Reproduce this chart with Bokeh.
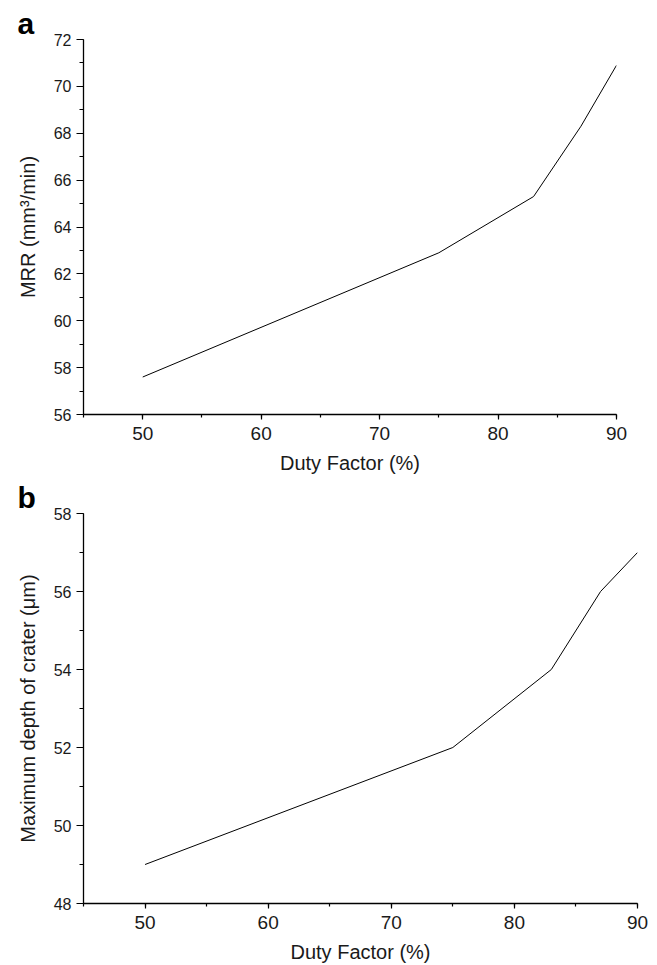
from bokeh.plotting import figure
from bokeh.models import Range1d, SingleIntervalTicker
from bokeh.layouts import column
from bokeh.embed import file_html
from bokeh.resources import INLINE

# Data
duty_factor = [50, 75, 83, 87, 90]
mrr = [57.6, 62.9, 65.3, 68.3, 70.9]
crater_depth = [49, 52, 54, 56, 57]

x_label = "Duty Factor (%)"
y_label_a = "MRR (mm\u00b3/min)"
y_label_b = "Maximum depth of crater (\u03bcm)"

FONT = "Liberation Sans"
TXT = "#1a1a1a"


def style(p, y_interval, panel_letter):
    p.xaxis.ticker = SingleIntervalTicker(interval=10, num_minor_ticks=2)
    p.yaxis.ticker = SingleIntervalTicker(interval=y_interval, num_minor_ticks=2)
    p.grid.visible = False
    p.outline_line_color = None
    p.background_fill_color = "white"
    p.border_fill_color = "white"
    p.title.text = panel_letter
    p.title.align = "left"
    p.title.offset = -66
    p.title.standoff = 0
    p.title.text_font = FONT
    p.title.text_font_style = "bold"
    p.title.text_font_size = "30px"
    p.title.text_color = "black"
    for ax in (p.xaxis[0], p.yaxis[0]):
        ax.axis_line_color = "black"
        ax.axis_line_width = 1.3
        ax.major_tick_line_color = "black"
        ax.minor_tick_line_color = "black"
        ax.major_tick_line_width = 1.2
        ax.minor_tick_line_width = 1.2
        ax.major_tick_in = 0
        ax.minor_tick_in = 0
        ax.axis_label_text_font = FONT
        ax.axis_label_text_font_style = "normal"
        ax.axis_label_text_font_size = "20px"
        ax.axis_label_text_color = TXT
        ax.major_label_text_font = FONT
        ax.major_label_text_color = TXT
    xa = p.xaxis[0]
    xa.major_tick_out = 5
    xa.minor_tick_out = 3
    xa.major_label_text_font_size = "19px"
    xa.major_label_standoff = 7
    xa.axis_label_standoff = 9
    ya = p.yaxis[0]
    ya.major_tick_out = 7
    ya.minor_tick_out = 4
    ya.major_label_text_font_size = "16px"
    ya.major_label_standoff = 5
    ya.axis_label_standoff = 12


# Panel a
pa = figure(width=636, height=478, output_backend="svg", toolbar_location=None,
            x_range=Range1d(45, 90), y_range=Range1d(56, 72),
            min_border_left=83, min_border_right=20, min_border_top=39,
            min_border_bottom=64)
pa.line(duty_factor, mrr, line_color="black", line_width=1)
pa.xaxis.axis_label = x_label
pa.yaxis.axis_label = y_label_a
style(pa, 2, "a")

# Panel b
pb = figure(width=657, height=487, output_backend="svg", toolbar_location=None,
            x_range=Range1d(45, 90), y_range=Range1d(48, 58),
            min_border_left=83, min_border_right=20, min_border_top=35,
            min_border_bottom=61)
pb.line(duty_factor, crater_depth, line_color="black", line_width=1)
pb.xaxis.axis_label = x_label
pb.yaxis.axis_label = y_label_b
style(pb, 2, "b")

layout = column(pa, pb, spacing=0)
open("out.html", "w").write(file_html(layout, INLINE))
